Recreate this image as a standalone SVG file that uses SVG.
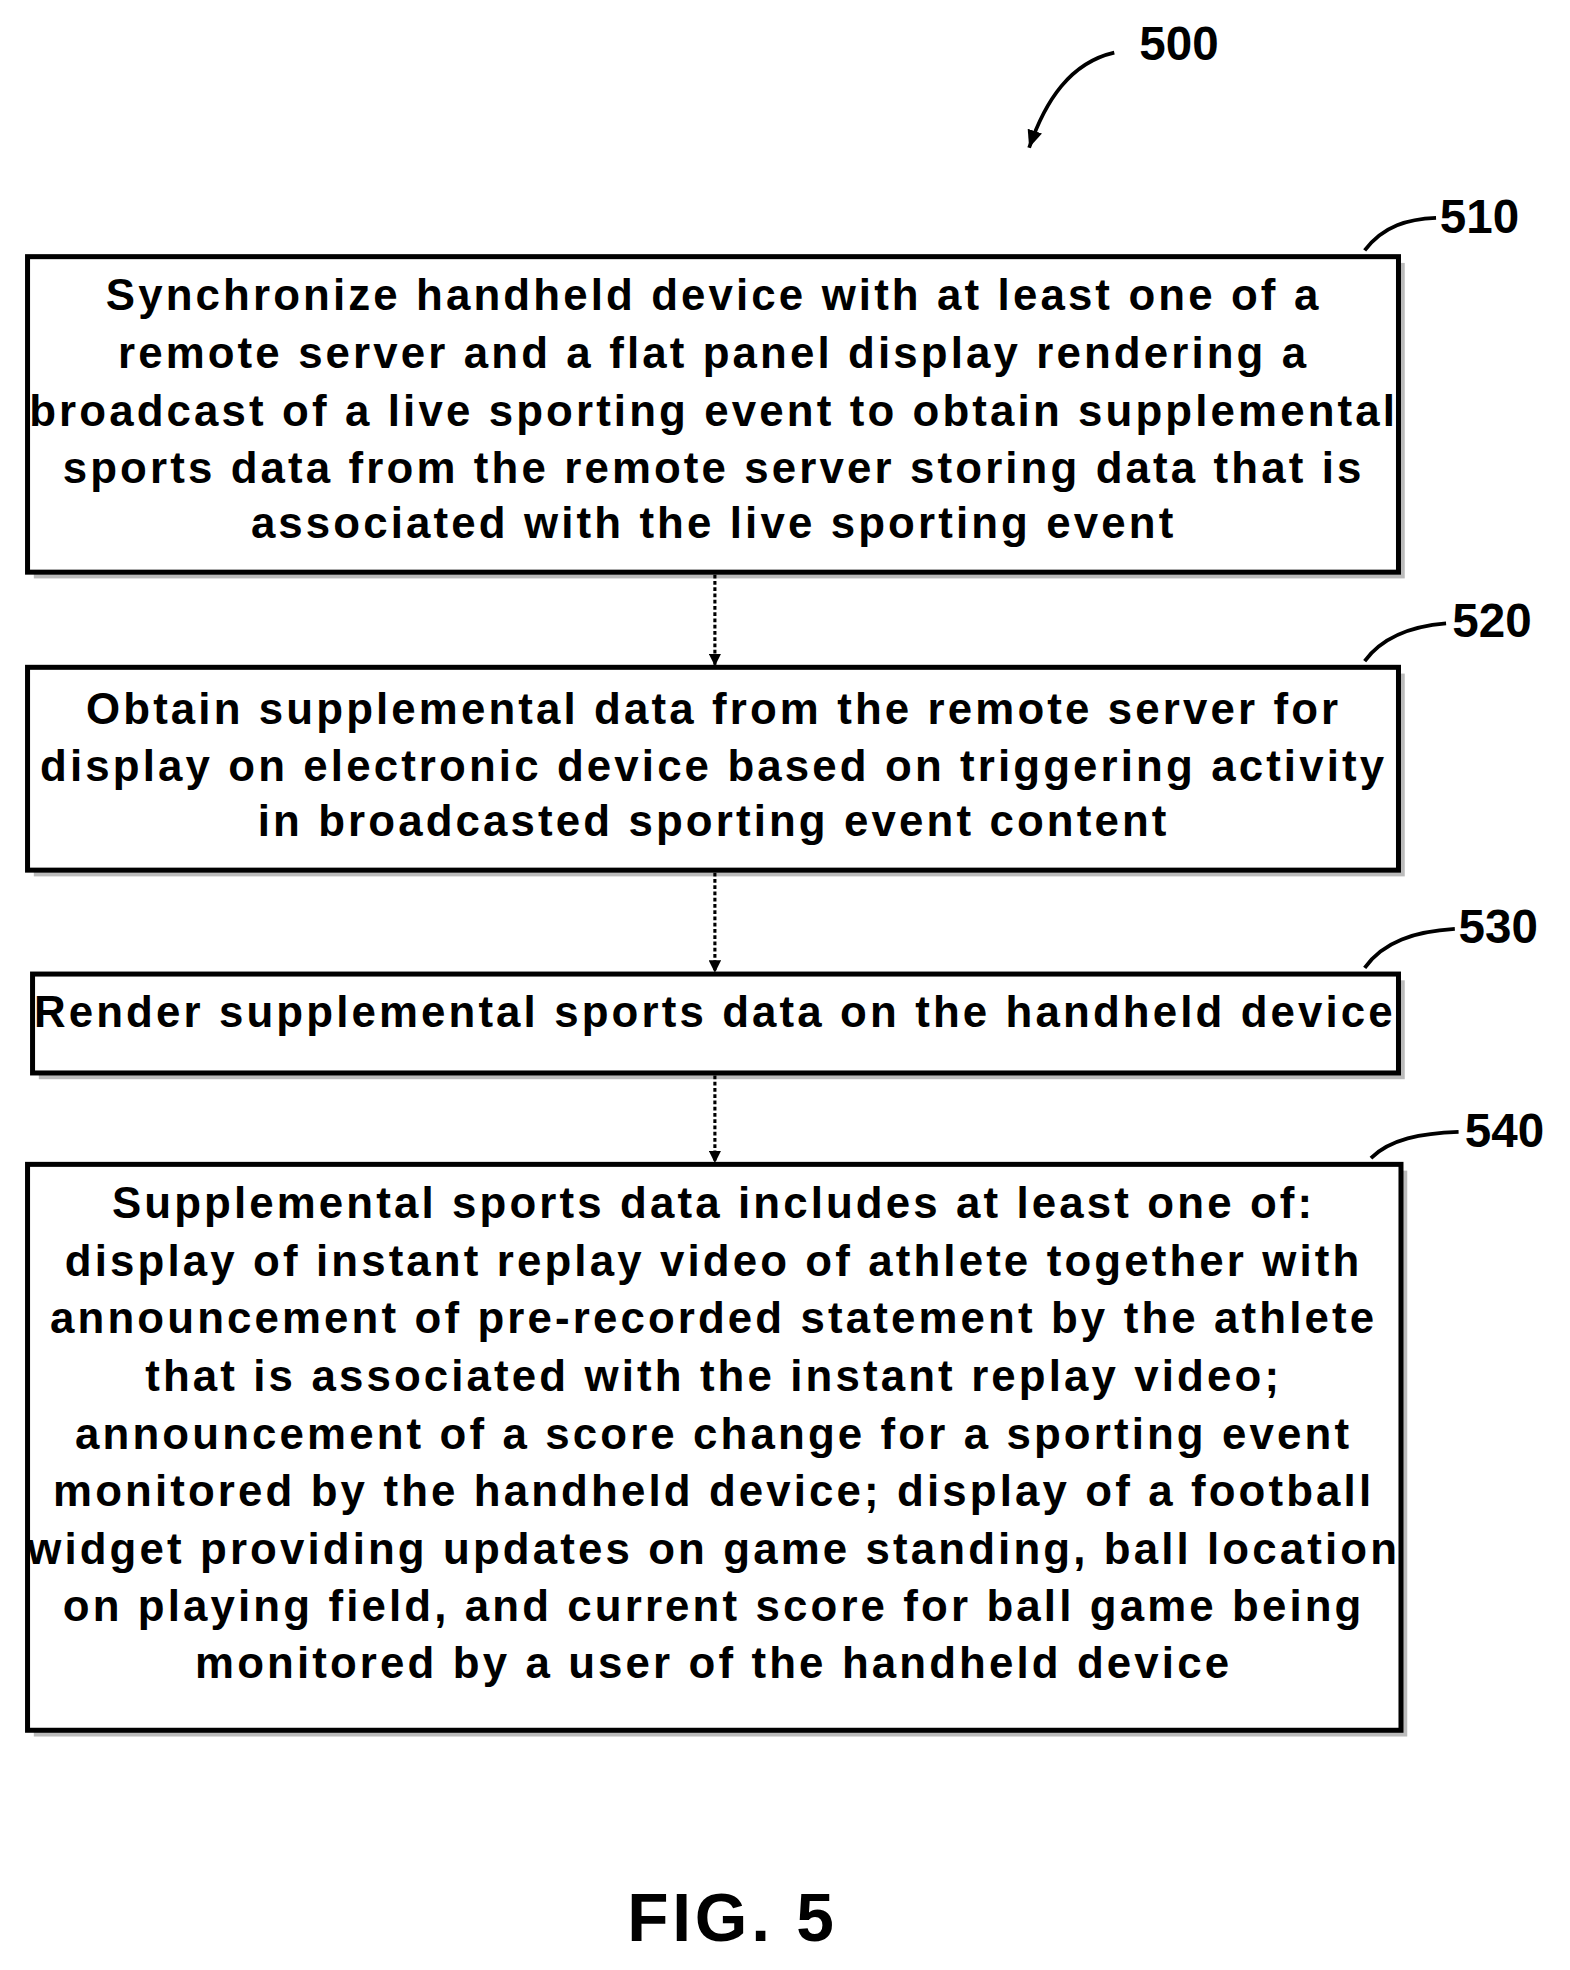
<svg xmlns="http://www.w3.org/2000/svg" width="1570" height="1970" viewBox="0 0 1570 1970">
<defs>
<style>
.b{fill:#fff;stroke:#000;stroke-width:4}
.s{fill:#bbb}
.t{font-family:"Liberation Sans",Arial,sans-serif;font-weight:bold;font-size:35px;letter-spacing:2.5px;text-anchor:middle;fill:#000}
.l{font-family:"Liberation Sans",Arial,sans-serif;font-weight:bold;font-size:38px;fill:#000}
.c{fill:none;stroke:#000;stroke-width:3}
.a{fill:none;stroke:#000;stroke-width:2.5;stroke-dasharray:3 2}
</style>
<marker id="ah" markerWidth="10" markerHeight="10" refX="9" refY="5" orient="auto" markerUnits="userSpaceOnUse"><path d="M0,0 L10,5 L0,10 z" fill="#000"/></marker>
<marker id="ah2" markerWidth="16" markerHeight="16" refX="14" refY="8" orient="auto" markerUnits="userSpaceOnUse"><path d="M0,2 L14,8 L0,14 z" fill="#000"/></marker>
</defs>
<rect width="1570" height="1970" fill="#fff"/>
<g transform="scale(1.252)">
<g id="label500"><text class="l" x="910" y="48" font-size="40">500</text><path class="c" d="M890,42 C855,50 835,80 822,118" marker-end="url(#ah2)"/></g>
<g id="n510">
<rect class="s" x="27" y="210" width="1095" height="252"/>
<rect class="b" x="22" y="205" width="1095" height="252"/>
<text class="t" x="570" y="248">Synchronize handheld device with at least one of a</text>
<text class="t" x="570" y="294">remote server and a flat panel display rendering a</text>
<text class="t" x="570" y="340">broadcast of a live sporting event to obtain supplemental</text>
<text class="t" x="570" y="386">sports data from the remote server storing data that is</text>
<text class="t" x="570" y="430">associated with the live sporting event</text>
<text class="l" x="1150" y="186">510</text><path class="c" d="M1090,200 C1105,180 1125,175 1147,174"/>
</g>
<g id="n520">
<rect class="s" x="27" y="538" width="1095" height="162"/>
<rect class="b" x="22" y="533" width="1095" height="162"/>
<text class="t" x="570" y="578">Obtain supplemental data from the remote server for</text>
<text class="t" x="570" y="624">display on electronic device based on triggering activity</text>
<text class="t" x="570" y="668">in broadcasted sporting event content</text>
<text class="l" x="1160" y="509">520</text><path class="c" d="M1090,528 C1105,508 1130,500 1155,498"/>
</g>
<g id="n530">
<rect class="s" x="31" y="783" width="1091" height="79"/>
<rect class="b" x="26" y="778" width="1091" height="79"/>
<text class="t" x="571" y="820">Render supplemental sports data on the handheld device</text>
<text class="l" x="1165" y="753">530</text><path class="c" d="M1090,773 C1105,752 1130,744 1162,742"/>
</g>
<g id="n540">
<rect class="s" x="27" y="935" width="1097" height="452"/>
<rect class="b" x="22" y="930" width="1097" height="452"/>
<text class="t" x="570" y="973">Supplemental sports data includes at least one of:</text>
<text class="t" x="570" y="1019">display of instant replay video of athlete together with</text>
<text class="t" x="570" y="1065">announcement of pre-recorded statement by the athlete</text>
<text class="t" x="570" y="1111">that is associated with the instant replay video;</text>
<text class="t" x="570" y="1157">announcement of a score change for a sporting event</text>
<text class="t" x="570" y="1203">monitored by the handheld device; display of a football</text>
<text class="t" x="570" y="1249">widget providing updates on game standing, ball location</text>
<text class="t" x="570" y="1295">on playing field, and current score for ball game being</text>
<text class="t" x="570" y="1340">monitored by a user of the handheld device</text>
<text class="l" x="1170" y="916">540</text><path class="c" d="M1095,925 C1110,910 1135,905 1165,904"/>
</g>
<g id="connectors">
<line class="a" x1="571" y1="459" x2="571" y2="531" marker-end="url(#ah)"/>
<line class="a" x1="571" y1="697" x2="571" y2="776" marker-end="url(#ah)"/>
<line class="a" x1="571" y1="859" x2="571" y2="928" marker-end="url(#ah)"/>
</g>
<text class="t" x="585" y="1550" style="font-size:54px;letter-spacing:3px">FIG. 5</text>
</g>
</svg>
